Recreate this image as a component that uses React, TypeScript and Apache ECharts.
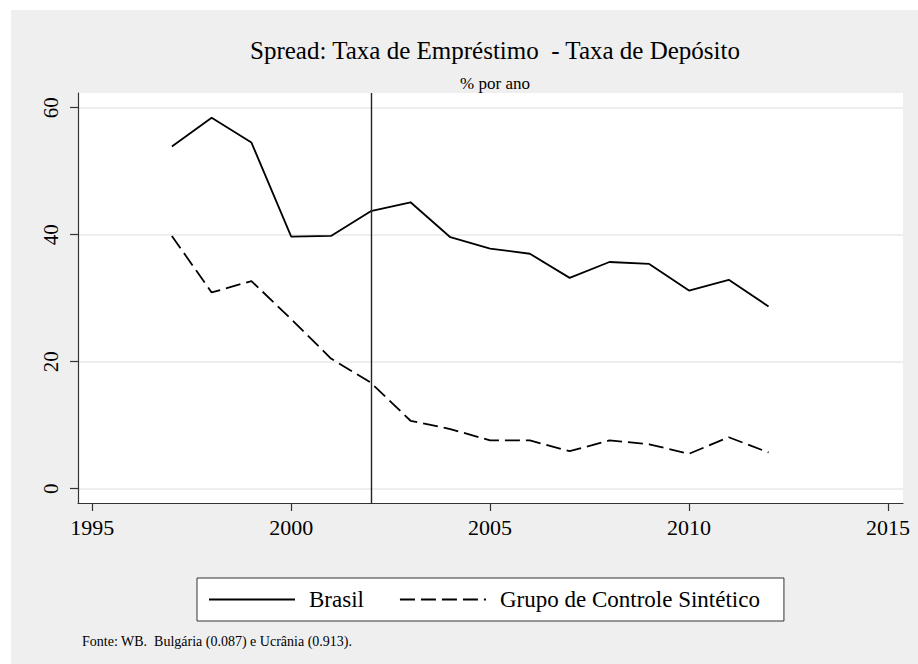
import React, { useEffect, useRef } from "react";
import * as echarts from "echarts";

const years = [1997, 1998, 1999, 2000, 2001, 2002, 2003, 2004, 2005, 2006, 2007, 2008, 2009, 2010, 2011, 2012];
const brasil = [53.9, 58.4, 54.5, 39.7, 39.8, 43.7, 45.1, 39.6, 37.8, 37.0, 33.2, 35.7, 35.4, 31.2, 32.9, 28.7];
const sintetico = [39.8, 30.9, 32.7, 26.7, 20.5, 16.7, 10.7, 9.4, 7.6, 7.6, 5.9, 7.6, 7.0, 5.5, 8.1, 5.7];
const xTicks = [1995, 2000, 2005, 2010, 2015];
const yTicks = [0, 20, 40, 60];
const treatmentYear = 2002;
const titleText = "Spread: Taxa de Empréstimo  - Taxa de Depósito";
const subtitleText = "% por ano";
const noteText = "Fonte: WB.  Bulgária (0.087) e Ucrânia (0.913).";
const seriesNames = ["Brasil", "Grupo de Controle Sintético"];

const FONT = "'Liberation Serif', 'Times New Roman', serif";

export default function App() {
  const ref = useRef<HTMLDivElement>(null);
  useEffect(() => {
    if (!ref.current) return;
    const chart = echarts.init(ref.current, undefined, { renderer: "svg" });
    const pair = (vals: number[]) => years.map((y, i) => [y, vals[i]]);
    chart.setOption({
      animation: false,
      backgroundColor: "transparent",
      textStyle: { fontFamily: FONT },
      title: [
        {
          text: titleText,
          left: 490,
          top: 33,
          textAlign: "center",
          textStyle: { fontFamily: FONT, fontSize: 25, fontWeight: "normal", color: "#000" },
        },
        {
          text: subtitleText,
          left: 490,
          top: 70,
          textAlign: "center",
          textStyle: { fontFamily: FONT, fontSize: 17, fontWeight: "normal", color: "#000" },
        },
      ],
      grid: {
        left: 78,
        top: 93,
        width: 825,
        height: 410,
        show: true,
        backgroundColor: "#ffffff",
        borderWidth: 0,
      },
      xAxis: {
        type: "value",
        min: 1994.64,
        max: 2015.38,
        axisLine: { show: true, onZero: false, lineStyle: { color: "#333", width: 1.2 } },
        axisTick: { show: true, length: 8, customValues: xTicks, lineStyle: { color: "#333", width: 1.2 } },
        axisLabel: {
          customValues: xTicks,
          formatter: (v: number) => String(Math.round(v)),
          margin: 13,
          fontFamily: FONT,
          fontSize: 22,
          color: "#000",
        },
        splitLine: { show: false },
      },
      yAxis: {
        type: "value",
        min: -2.25,
        max: 62.31,
        axisLine: { show: true, onZero: false, lineStyle: { color: "#333", width: 1.2 } },
        axisTick: { show: true, length: 8, customValues: yTicks, lineStyle: { color: "#333", width: 1.2 } },
        axisLabel: {
          customValues: yTicks,
          formatter: (v: number) => String(Math.round(v)),
          rotate: 90,
          margin: 17,
          fontFamily: FONT,
          fontSize: 21,
          color: "#000",
        },
        splitLine: { show: true, lineStyle: { color: "#e8e8e8", width: 1.6 } },
      },
      legend: {
        show: true,
        left: 197,
        top: 578,
        orient: "horizontal",
        backgroundColor: "#ffffff",
        borderColor: "#333",
        borderWidth: 1,
        borderRadius: 0,
        padding: [10, 24, 10, 11],
        itemWidth: 86,
        itemHeight: 20,
        itemGap: 35,
        itemStyle: { color: "transparent", opacity: 0, borderWidth: 0 },
        textStyle: { fontFamily: FONT, fontSize: 23, color: "#000", padding: [0, 0, 0, 9] },
        data: [seriesNames[0], seriesNames[1]],
      },
      graphic: [
        {
          type: "text",
          left: 82,
          top: 634,
          style: { text: noteText, fontFamily: FONT, fontSize: 14, fill: "#000" },
        },
      ],
      series: [
        {
          name: seriesNames[0],
          type: "line",
          data: pair(brasil),
          showSymbol: false,
          symbol: "none",
          lineStyle: { color: "#000", width: 1.8, type: "solid" },
          itemStyle: { color: "#000" },
          markLine: {
            silent: true,
            symbol: ["none", "none"],
            label: { show: false },
            lineStyle: { color: "#222", width: 1.4, type: "solid" },
            data: [{ xAxis: treatmentYear }],
          },
        },
        {
          name: seriesNames[1],
          type: "line",
          data: pair(sintetico),
          showSymbol: false,
          symbol: "none",
          lineStyle: { color: "#000", width: 1.8, type: [15, 6] },
          itemStyle: { color: "#000" },
        },
      ],
    });
    return () => chart.dispose();
  }, []);
  return (
    <div style={{ position: "absolute", left: 0, top: 0, width: 918, height: 664, background: "#ffffff" }}>
      <div style={{ position: "absolute", left: 11, top: 10, width: 907, height: 654, background: "#efefef" }} />
      <div ref={ref} style={{ position: "absolute", left: 0, top: 0, width: 918, height: 664 }} />
    </div>
  );
}
